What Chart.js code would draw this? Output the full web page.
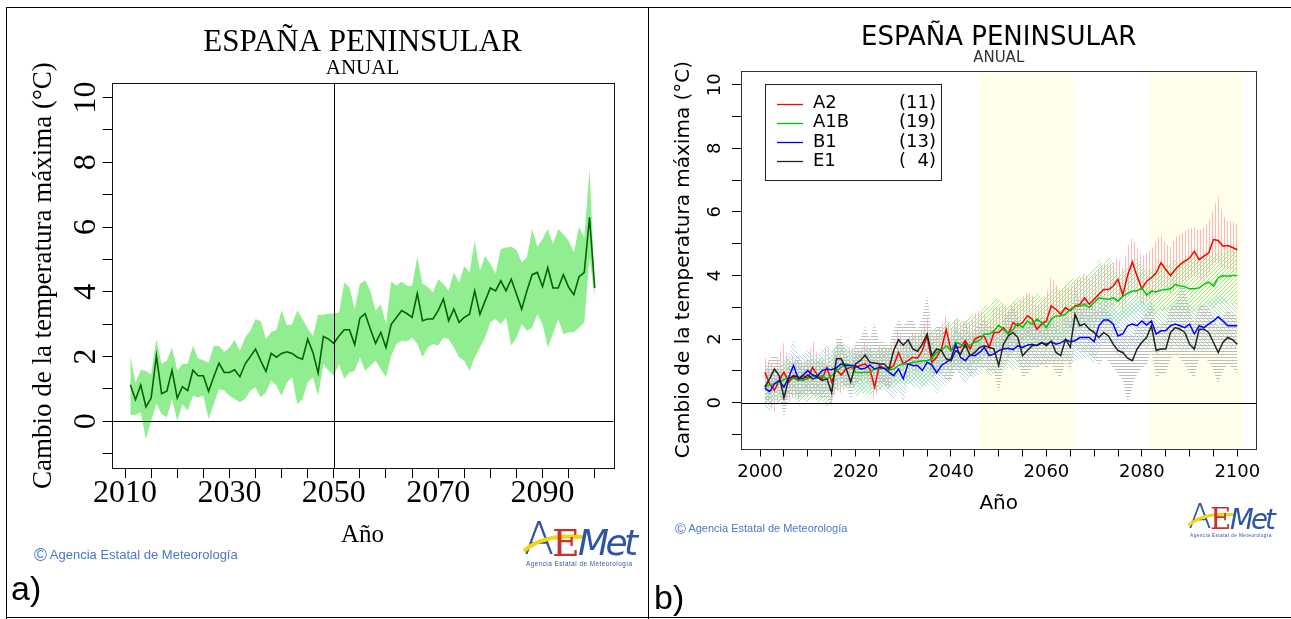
<!DOCTYPE html>
<html lang="es">
<head>
<meta charset="utf-8">
<title>España peninsular - temperatura máxima anual</title>
<script src="https://cdn.jsdelivr.net/npm/chart.js@4.4.1/dist/chart.umd.min.js"></script>
<style>
  html, body { margin: 0; padding: 0; background: #fff; }
  #page { position: relative; width: 1291px; height: 619px; overflow: hidden; font-family: "Liberation Sans", Arial, sans-serif; }
  canvas { position: absolute; top: 0; }
  #chartA { left: 0; }
  #chartB { left: 648px; }
  .rule { position: absolute; background: #000; }
  .copy { position: absolute; color: #4a78c8; white-space: nowrap; }
  .copy span { font-size: 1.35em; vertical-align: -2px; }
  .tag { position: absolute; font-size: 34px; line-height: 34px; color: #000; }
  .logo { position: absolute; }
</style>
</head>
<body>
<div id="page">
  <canvas id="chartA" width="648" height="619"></canvas>
  <canvas id="chartB" width="643" height="619"></canvas>

  <div class="rule" style="left:6px; top:7px; width:1285px; height:1px;"></div>
  <div class="rule" style="left:6px; top:7px; width:1px; height:612px;"></div>
  <div class="rule" style="left:648px; top:7px; width:1px; height:612px;"></div>
  <div class="rule" style="left:6px; top:617px; width:1285px; height:1px;"></div>

  <div class="copy" style="left:34px; top:545px; font-size:13px;"><span>©</span> Agencia Estatal de Meteorología</div>
  <div class="copy" style="left:675px; top:521px; font-size:11px;"><span>©</span> Agencia Estatal de Meteorología</div>

  <svg class="logo" style="left:522px; top:510px;" width="120" height="60" viewBox="0 0 120 60">
    <text x="2" y="44" font-family="DejaVu Sans" font-size="44" font-weight="300" fill="#2e55a4" textLength="26">A</text>
    <path d="M3 40 Q 22 24 60 27" stroke="#f4d40c" stroke-width="4" fill="none" stroke-linecap="round"/>
    <text x="30" y="46" font-family="DejaVu Serif" font-size="38" fill="#c8322c">E</text>
    <text x="56" y="45" font-family="DejaVu Sans" font-style="italic" font-size="36" fill="#2e55a4" textLength="60">Met</text>
    <text x="4" y="56" font-family="Liberation Sans" font-size="6.3" fill="#2e55a4" textLength="106">Agencia Estatal de Meteorología</text>
  </svg>
  <svg class="logo" style="left:1186px; top:494px;" width="94" height="46" viewBox="0 0 120 60">
    <text x="2" y="44" font-family="DejaVu Sans" font-size="44" font-weight="300" fill="#2e55a4" textLength="26">A</text>
    <path d="M3 40 Q 22 24 60 27" stroke="#f4d40c" stroke-width="4" fill="none" stroke-linecap="round"/>
    <text x="30" y="46" font-family="DejaVu Serif" font-size="38" fill="#c8322c">E</text>
    <text x="56" y="45" font-family="DejaVu Sans" font-style="italic" font-size="36" fill="#2e55a4" textLength="60">Met</text>
    <text x="4" y="56" font-family="Liberation Sans" font-size="6.3" fill="#2e55a4" textLength="106">Agencia Estatal de Meteorología</text>
  </svg>

  <div class="tag" style="left:11px; top:571px;">a)</div>
  <div class="tag" style="left:654px; top:580px;">b)</div>
</div>

<script>
// ---- panel a: ensemble mean and spread, 2011-2100 ----
var firstYearA = 2011;
var meanA = [
  1.13, 0.67, 1.12, 0.45, 0.72, 2.03, 0.86, 0.93, 1.58, 0.72,
  1.07, 0.95, 1.58, 1.41, 1.41, 0.93, 1.38, 1.80, 1.51, 1.51,
  1.59, 1.38, 1.77, 2.00, 2.23, 1.87, 1.54, 2.10, 1.98, 2.10,
  2.15, 2.10, 1.98, 1.92, 2.54, 2.13, 1.49, 2.62, 2.54, 2.41,
  2.64, 2.83, 2.83, 2.37, 3.19, 3.33, 2.85, 2.41, 2.75, 2.28,
  3.00, 3.21, 3.42, 3.33, 3.21, 3.95, 3.11, 3.16, 3.16, 3.42,
  3.78, 3.11, 3.47, 3.06, 3.21, 3.31, 4.03, 3.31, 3.72, 4.12,
  4.03, 4.34, 4.03, 4.39, 3.93, 3.47, 4.03, 4.53, 4.60, 4.16,
  4.75, 4.12, 4.12, 4.53, 4.14, 3.91, 4.47, 4.60, 6.30, 4.12
];
var upperA = [
  2.03, 1.20, 1.59, 1.56, 1.44, 2.54, 1.77, 1.87, 2.28, 1.58,
  1.77, 1.79, 2.33, 1.95, 1.89, 1.81, 2.33, 2.33, 2.15, 2.28,
  2.51, 2.18, 2.59, 2.80, 3.16, 3.09, 2.54, 2.75, 2.82, 3.42,
  2.97, 3.00, 3.42, 3.16, 2.87, 2.64, 3.29, 3.29, 3.33, 3.33,
  3.36, 4.29, 4.14, 3.47, 4.24, 4.36, 4.03, 3.42, 3.62, 3.00,
  4.32, 4.19, 4.32, 4.19, 4.19, 5.08, 4.24, 4.16, 3.98, 4.39,
  4.24, 4.03, 4.60, 4.29, 4.80, 4.60, 5.56, 4.65, 5.11, 4.86,
  4.57, 5.32, 5.37, 5.39, 5.30, 4.91, 5.06, 5.94, 5.39, 5.63,
  5.94, 5.47, 5.94, 5.78, 5.58, 5.22, 6.01, 5.68, 7.79, 4.24
];
var lowerA = [
  0.20, 0.20, 0.28, -0.55, 0.02, 0.55, 0.23, 0.12, 0.69, 0.02,
  0.53, 0.33, 0.79, 0.74, 0.79, 0.07, 0.53, 1.00, 0.95, 0.79,
  0.69, 0.59, 0.69, 0.95, 1.05, 0.74, 0.90, 1.26, 1.10, 0.79,
  1.20, 1.36, 0.53, 0.69, 1.20, 1.36, 0.79, 1.77, 1.56, 1.41,
  1.77, 1.31, 1.51, 1.56, 1.98, 1.56, 1.72, 1.87, 1.62, 1.36,
  2.03, 2.39, 2.49, 2.47, 2.59, 2.39, 1.98, 2.28, 2.39, 2.34,
  2.59, 2.54, 2.28, 1.98, 1.87, 1.56, 1.98, 2.28, 2.59, 3.06,
  3.16, 3.00, 3.21, 2.34, 2.59, 3.00, 2.80, 2.90, 3.31, 3.00,
  2.28, 2.70, 3.16, 2.70, 2.75, 2.75, 2.90, 3.06, 5.06, 3.81
];
var xTicksA = [2010, 2015, 2020, 2025, 2030, 2035, 2040, 2045, 2050, 2055,
               2060, 2065, 2070, 2075, 2080, 2085, 2090, 2095, 2100];
var xLabelsA = [2010, 2030, 2050, 2070, 2090];
var markYearA = 2050;

// ---- panel b: scenarios A2, A1B, B1, E1, 2001-2100 ----
var firstYearB = 2001;
var scenarioNames = ['A2', 'A1B', 'B1', 'E1'];
var modelCounts = ['(11)', '(19)', '(13)', '(\u20074)'];

var a2Mean = [
  0.96, 0.59, 0.39, 0.70, 0.96, 0.65, 0.83, 0.70, 0.85, 0.77,
  1.11, 0.87, 0.75, 1.10, 0.65, 1.04, 0.87, 1.06, 1.11, 1.11,
  1.17, 1.22, 1.06, 0.49, 1.17, 1.08, 1.06, 1.17, 1.58, 1.22,
  1.32, 1.43, 1.40, 1.64, 2.10, 1.27, 1.43, 1.69, 2.31, 1.64,
  1.74, 1.74, 1.95, 1.69, 2.00, 2.08, 2.08, 1.74, 2.21, 2.21,
  2.36, 2.16, 2.52, 2.42, 2.52, 2.73, 2.63, 2.31, 2.47, 2.57,
  3.04, 2.94, 2.78, 2.99, 2.89, 3.04, 3.09, 3.30, 3.09, 3.25,
  3.41, 3.56, 3.56, 3.67, 3.88, 3.38, 4.00, 4.42, 3.98, 3.58,
  3.82, 3.93, 4.08, 4.40, 4.19, 4.00, 4.19, 4.34, 4.45, 4.55,
  4.76, 4.50, 4.61, 4.71, 5.13, 5.10, 4.92, 4.94, 4.88, 4.81
];
var a2Upper = [
  1.4, 1.3, 1.1, 1.5, 1.9, 1.2, 1.5, 1.2, 1.4, 1.3,
  2.0, 1.5, 1.3, 1.9, 1.2, 2.0, 1.6, 1.5, 1.8, 1.6,
  1.7, 1.9, 1.6, 1.3, 1.8, 1.7, 1.7, 1.9, 2.4, 1.9,
  2.0, 2.2, 2.1, 2.3, 2.7, 2.0, 2.2, 2.4, 2.8, 2.3,
  2.7, 2.5, 2.6, 2.5, 2.8, 2.9, 2.8, 2.5, 3.0, 3.0,
  3.1, 2.9, 3.2, 3.1, 3.3, 3.5, 3.4, 3.0, 3.2, 3.4,
  4.0, 3.7, 3.5, 3.7, 3.6, 3.8, 3.9, 4.1, 3.9, 4.0,
  4.2, 4.4, 4.3, 4.4, 4.6, 4.2, 4.9, 5.2, 4.9, 4.6,
  4.7, 4.8, 5.1, 5.3, 5.0, 4.9, 5.2, 5.3, 5.4, 5.5,
  5.5, 5.4, 5.5, 5.7, 6.1, 6.5, 5.9, 5.7, 5.7, 5.6
];
var a2Lower = [
  0.4, -0.1, -0.3, 0.1, 0.3, 0.0, 0.2, 0.1, 0.3, 0.2,
  0.4, 0.3, 0.2, 0.5, 0.0, 0.4, 0.3, 0.5, 0.5, 0.6,
  0.6, 0.7, 0.5, 0.0, 0.6, 0.6, 0.5, 0.6, 1.0, 0.7,
  0.8, 0.9, 0.8, 1.1, 1.4, 0.7, 0.9, 1.1, 1.6, 1.1,
  1.2, 1.2, 1.4, 1.1, 1.4, 1.5, 1.5, 1.2, 1.6, 1.6,
  1.7, 1.6, 1.9, 1.8, 1.9, 2.1, 2.0, 1.7, 1.9, 2.0,
  2.4, 2.3, 2.2, 2.4, 2.3, 2.4, 2.5, 2.7, 2.5, 2.6,
  2.8, 2.9, 3.0, 3.0, 3.2, 2.8, 3.3, 3.6, 3.3, 3.0,
  3.2, 3.3, 3.4, 3.7, 3.5, 3.4, 3.6, 3.7, 3.8, 3.9,
  4.0, 3.8, 3.9, 4.0, 4.4, 4.4, 4.2, 4.2, 4.1, 4.1
];

var a1bMean = [
  0.49, 0.56, 0.60, 0.65, 0.73, 0.78, 0.75, 0.72, 0.70, 0.75,
  0.85, 0.80, 0.85, 0.75, 0.85, 1.00, 1.11, 1.22, 1.17, 0.96,
  0.94, 0.96, 0.96, 1.06, 1.06, 1.09, 1.02, 1.06, 1.17, 1.22,
  1.22, 1.27, 1.29, 1.32, 1.32, 1.38, 1.58, 1.64, 1.79, 1.64,
  1.90, 1.84, 1.74, 1.82, 1.90, 1.95, 2.16, 2.16, 2.26, 2.44,
  2.31, 2.16, 2.31, 2.50, 2.36, 2.57, 2.47, 2.63, 2.52, 2.36,
  2.63, 2.73, 2.73, 2.78, 2.94, 3.02, 3.04, 3.09, 2.99, 3.15,
  3.30, 3.27, 3.25, 3.30, 3.20, 3.35, 3.44, 3.51, 3.51, 3.61,
  3.38, 3.51, 3.48, 3.54, 3.56, 3.58, 3.72, 3.67, 3.65, 3.58,
  3.58, 3.61, 3.72, 3.79, 3.67, 3.93, 4.00, 3.98, 4.00, 4.00
];
var a1bUpper = [
  1.1, 1.2, 0.9, 1.0, 1.3, 1.4, 1.2, 1.3, 1.2, 1.2,
  1.4, 1.3, 1.5, 1.2, 1.6, 1.8, 1.9, 1.7, 1.6, 1.5,
  1.6, 1.5, 1.7, 1.7, 1.6, 1.8, 1.7, 1.7, 1.9, 1.9,
  2.0, 2.1, 2.0, 2.3, 2.2, 2.3, 2.4, 2.3, 2.6, 2.5,
  2.7, 2.6, 2.5, 2.8, 2.7, 2.8, 3.1, 3.0, 3.2, 3.3,
  3.1, 3.0, 3.2, 3.3, 3.2, 3.4, 3.3, 3.5, 3.3, 3.3,
  3.5, 3.6, 3.5, 3.7, 3.9, 3.9, 4.0, 3.9, 4.1, 4.2,
  4.5, 4.3, 4.6, 4.4, 4.0, 4.1, 4.3, 4.5, 4.6, 4.3,
  4.2, 4.2, 4.3, 4.3, 4.4, 4.3, 4.5, 4.4, 4.5, 4.5,
  4.6, 4.6, 4.5, 4.7, 4.6, 4.8, 4.7, 4.8, 4.8, 4.9
];
var a1bLower = [
  -0.1, 0.0, 0.1, 0.0, 0.2, 0.3, 0.2, -0.1, 0.1, 0.0,
  0.2, 0.0, 0.1, -0.2, 0.1, 0.4, 0.4, 0.5, 0.5, 0.2,
  0.3, 0.3, 0.2, 0.4, 0.4, 0.5, 0.4, 0.5, 0.6, 0.6,
  0.6, 0.7, 0.7, 0.5, 0.6, 0.7, 0.9, 1.0, 1.1, 0.9,
  1.2, 1.1, 1.0, 1.1, 1.2, 1.2, 1.4, 1.5, 1.5, 1.7,
  1.6, 1.4, 1.6, 1.7, 1.6, 1.8, 1.7, 1.9, 1.8, 1.6,
  1.9, 2.0, 2.0, 2.1, 2.2, 2.3, 2.3, 2.4, 2.3, 2.4,
  2.6, 2.5, 2.5, 2.6, 2.5, 2.6, 2.7, 2.8, 2.8, 2.9,
  2.6, 2.8, 2.8, 2.9, 2.9, 2.9, 3.0, 2.9, 2.9, 2.8,
  2.9, 2.9, 3.0, 3.1, 2.9, 3.1, 3.1, 3.2, 3.1, 3.1
];

var b1Mean = [
  0.46, 0.35, 0.59, 0.70, 0.49, 0.80, 1.17, 0.75, 0.87, 1.01,
  0.87, 0.83, 1.01, 1.06, 1.04, 1.10, 1.22, 1.17, 1.17, 1.17,
  1.06, 1.08, 1.19, 1.06, 1.11, 1.08, 0.96, 0.85, 1.06, 0.75,
  1.22, 1.17, 1.17, 1.01, 1.27, 1.19, 0.94, 1.17, 1.27, 1.38,
  1.84, 1.43, 1.32, 1.50, 1.48, 1.58, 1.74, 1.48, 1.53, 1.64,
  1.69, 1.71, 1.67, 1.79, 1.74, 1.81, 1.84, 1.79, 1.88, 1.84,
  1.92, 1.84, 1.88, 1.98, 1.92, 1.95, 2.05, 2.05, 2.05, 1.92,
  2.42, 2.60, 2.60, 2.47, 2.10, 2.16, 2.42, 2.47, 2.42, 2.57,
  2.44, 2.57, 2.16, 2.26, 2.26, 2.42, 2.47, 2.42, 2.36, 2.47,
  2.16, 2.42, 2.36, 2.47, 2.57, 2.70, 2.57, 2.42, 2.42, 2.42
];
var b1Upper = [
  1.2, 0.9, 1.0, 1.1, 1.4, 1.5, 2.0, 1.5, 1.5, 1.7,
  1.5, 1.5, 1.7, 1.8, 1.6, 1.8, 1.9, 1.8, 1.7, 1.8,
  1.7, 1.8, 1.8, 1.6, 1.8, 1.7, 1.6, 1.6, 1.7, 1.5,
  1.9, 1.9, 1.8, 1.7, 2.0, 1.9, 1.7, 1.9, 2.0, 2.0,
  2.5, 2.1, 2.0, 2.2, 2.1, 2.2, 2.4, 2.2, 2.2, 2.3,
  2.4, 2.4, 2.3, 2.5, 2.4, 2.5, 2.5, 2.5, 2.6, 2.6,
  2.6, 2.5, 2.6, 2.7, 2.6, 2.7, 2.8, 2.8, 2.8, 2.6,
  3.1, 3.3, 3.2, 3.1, 2.8, 2.9, 3.1, 3.2, 3.1, 3.3,
  3.1, 3.3, 2.9, 3.0, 3.0, 3.1, 3.2, 3.1, 3.0, 3.2,
  2.9, 3.1, 3.1, 3.2, 3.3, 3.4, 3.3, 3.2, 3.1, 3.2
];
var b1Lower = [
  -0.2, -0.3, 0.0, 0.2, -0.1, 0.2, 0.5, 0.1, 0.2, 0.4,
  0.2, 0.2, 0.3, 0.4, 0.4, 0.4, 0.6, 0.5, 0.5, 0.5,
  0.4, 0.4, 0.5, 0.4, 0.4, 0.4, 0.3, 0.1, 0.4, 0.0,
  0.6, 0.5, 0.5, 0.4, 0.6, 0.5, 0.3, 0.5, 0.6, 0.7,
  1.1, 0.8, 0.6, 0.8, 0.8, 0.9, 1.1, 0.8, 0.9, 1.0,
  1.0, 1.1, 1.0, 1.1, 1.1, 1.1, 1.2, 1.1, 1.2, 1.2,
  1.3, 1.2, 1.2, 1.3, 1.2, 1.3, 1.4, 1.4, 1.4, 1.2,
  1.7, 1.9, 1.9, 1.8, 1.4, 1.5, 1.7, 1.8, 1.7, 1.9,
  1.7, 1.9, 1.5, 1.6, 1.6, 1.7, 1.8, 1.7, 1.6, 1.8,
  1.5, 1.7, 1.6, 1.8, 1.9, 2.0, 1.9, 1.7, 1.7, 1.7
];

var e1Mean = [
  0.49, 0.75, 1.06, 0.85, 0.15, 0.75, 0.85, 0.80, 0.75, 0.87,
  0.75, 0.80, 0.70, 0.75, 0.31, 1.38, 1.38, 1.08, 0.65, 1.22,
  1.32, 1.50, 1.27, 1.25, 1.22, 1.22, 1.06, 1.64, 1.98, 1.81,
  1.98, 1.69, 1.62, 1.84, 2.16, 1.48, 1.69, 1.64, 1.38, 1.32,
  1.64, 1.53, 1.84, 1.48, 1.58, 1.74, 1.79, 1.74, 1.69, 1.17,
  1.84, 2.10, 2.21, 2.05, 1.48, 1.64, 1.79, 1.81, 1.90, 1.79,
  1.94, 1.58, 1.48, 2.00, 1.74, 2.78, 2.42, 2.48, 2.31, 2.21,
  2.05, 2.21, 2.10, 1.84, 1.64, 1.58, 1.40, 1.32, 1.69, 1.90,
  2.05, 2.42, 1.64, 1.69, 1.69, 2.21, 2.36, 2.31, 2.21, 1.84,
  1.69, 2.31, 2.31, 2.21, 1.90, 1.58, 1.90, 2.05, 1.98, 1.84
];
var e1Upper = [
  1.0, 1.4, 1.5, 1.4, 0.8, 1.2, 1.3, 1.5, 1.2, 1.4,
  1.2, 1.3, 1.3, 1.2, 1.0, 2.0, 2.1, 1.6, 1.2, 1.9,
  2.0, 2.4, 2.0, 2.5, 1.9, 1.9, 1.8, 2.3, 2.6, 2.4,
  2.6, 2.6, 2.3, 2.7, 3.4, 2.2, 2.4, 2.4, 2.0, 2.0,
  2.3, 2.2, 2.6, 2.1, 2.3, 2.5, 2.6, 2.4, 2.4, 1.9,
  2.6, 2.9, 3.0, 2.8, 2.2, 2.4, 2.6, 2.6, 2.7, 2.6,
  2.7, 2.3, 2.2, 2.8, 2.5, 3.7, 3.2, 3.3, 3.1, 3.0,
  2.8, 3.0, 2.9, 2.6, 2.4, 2.3, 2.1, 2.1, 2.4, 2.7,
  2.8, 3.2, 2.4, 2.5, 2.5, 3.0, 3.1, 3.6, 3.7, 2.9,
  2.5, 3.0, 3.1, 3.0, 2.7, 2.4, 2.7, 2.9, 2.8, 2.7
];
var e1Lower = [
  0.0, 0.1, 0.5, 0.3, -0.5, 0.2, 0.3, 0.2, 0.2, 0.3,
  0.2, 0.3, 0.1, 0.2, -0.1, 0.7, 0.7, 0.5, 0.1, 0.6,
  0.7, 0.9, 0.6, 0.7, 0.6, 0.6, 0.4, 1.0, 1.3, 1.1,
  1.3, 1.1, 1.0, 1.2, 1.4, 0.8, 1.0, 0.9, 0.7, 0.7,
  1.0, 0.9, 1.2, 0.8, 1.0, 1.1, 1.1, 1.0, 1.0, 0.3,
  1.1, 1.3, 1.4, 1.3, 0.8, 0.9, 1.1, 1.1, 1.2, 1.1,
  1.2, 0.9, 0.8, 1.3, 1.0, 1.8, 1.6, 1.6, 1.5, 1.4,
  1.2, 1.4, 1.3, 1.1, 0.9, 0.7, 0.0, 0.5, 0.9, 1.1,
  1.2, 1.6, 0.8, 0.9, 0.9, 1.4, 1.5, 1.4, 1.2, 0.9,
  0.8, 1.4, 1.4, 1.3, 1.0, 0.6, 1.0, 1.2, 1.1, 0.9
];

var xTicksB = [2000, 2005, 2010, 2015, 2020, 2025, 2030, 2035, 2040, 2045, 2050,
               2055, 2060, 2065, 2070, 2075, 2080, 2085, 2090, 2095, 2100];
var xLabelsB = [2000, 2020, 2040, 2060, 2080, 2100];
var periodStart = [2046, 2081.5];
var periodEnd = [2065.8, 2101];

var yTickValues = [-1, 0, 1, 2, 3, 4, 5, 6, 7, 8, 9, 10];

var lineColors = ['#ff0000', '#00c800', '#0000ff', '#222222'];
var hatchColors = ['#ffb6c1', '#90ee90', '#add8e6', '#bebebe'];
var hatchKinds = ['v', 'd', 'a', 'h'];

// turn a value list into {x, y} points starting at a given year
function toPoints(startYear, values) {
    return values.map(function (v, i) { return { x: startYear + i, y: v }; });
}

function makeHatch(color, kind) {
    var s = (kind === 'v' || kind === 'h') ? 3 : 4;
    var c = document.createElement('canvas');
    c.width = s;
    c.height = s;
    var g = c.getContext('2d');
    g.strokeStyle = color;
    g.lineWidth = 1;
    g.beginPath();
    if (kind === 'v') {
        g.moveTo(0.5, 0); g.lineTo(0.5, s);
    } else if (kind === 'h') {
        g.moveTo(0, 0.5); g.lineTo(s, 0.5);
    } else if (kind === 'd') {
        g.moveTo(0, s); g.lineTo(s, 0);
        g.moveTo(-1, 1); g.lineTo(1, -1);
        g.moveTo(s - 1, s + 1); g.lineTo(s + 1, s - 1);
    } else {
        g.moveTo(0, 0); g.lineTo(s, s);
        g.moveTo(s - 1, -1); g.lineTo(s + 1, 1);
        g.moveTo(-1, s - 1); g.lineTo(1, s + 1);
    }
    g.stroke();
    return g.createPattern(c, 'repeat');
}

// box around the plotting region
var framePlugin = {
    id: 'frame',
    afterDraw: function (chart) {
        var a = chart.chartArea;
        var ctx = chart.ctx;
        ctx.save();
        ctx.strokeStyle = chart.options.plugins.frame.color;
        ctx.lineWidth = 1;
        ctx.strokeRect(Math.round(a.left) + 0.5, Math.round(a.top) + 0.5,
                       Math.round(a.right - a.left), Math.round(a.bottom - a.top));
        ctx.restore();
    }
};

// zero line (and optional marker year) over the data
var refLinesPlugin = {
    id: 'refLines',
    afterDatasetsDraw: function (chart) {
        var opts = chart.options.plugins.refLines;
        var a = chart.chartArea;
        var ctx = chart.ctx;
        var y0 = Math.round(chart.scales.y.getPixelForValue(0)) + 0.5;
        ctx.save();
        ctx.strokeStyle = '#000';
        ctx.lineWidth = 1;
        ctx.beginPath();
        ctx.moveTo(a.left, y0);
        ctx.lineTo(a.right, y0);
        if (opts.year !== undefined) {
            var x0 = Math.round(chart.scales.x.getPixelForValue(opts.year)) + 0.5;
            ctx.moveTo(x0, a.top);
            ctx.lineTo(x0, a.bottom);
        }
        ctx.stroke();
        ctx.restore();
    }
};

// pale background for the two reference periods
var periodPlugin = {
    id: 'periods',
    beforeDatasetsDraw: function (chart) {
        var a = chart.chartArea;
        var ctx = chart.ctx;
        var xs = chart.scales.x;
        ctx.save();
        ctx.fillStyle = '#ffffec';
        for (var i = 0; i < periodStart.length; i++) {
            var x1 = xs.getPixelForValue(periodStart[i]);
            var x2 = Math.min(xs.getPixelForValue(periodEnd[i]), a.right);
            ctx.fillRect(x1, a.top, x2 - x1, a.bottom - a.top);
        }
        ctx.restore();
    }
};

var legendPlugin = {
    id: 'scenarioLegend',
    afterDatasetsDraw: function (chart) {
        var a = chart.chartArea;
        var ctx = chart.ctx;
        var x0 = Math.round(a.left) + 24, y0 = Math.round(a.top) + 13;
        ctx.save();
        ctx.fillStyle = '#fff';
        ctx.fillRect(x0, y0, 176, 96);
        ctx.strokeStyle = '#222';
        ctx.lineWidth = 1;
        ctx.strokeRect(x0 + 0.5, y0 + 0.5, 176, 96);
        ctx.font = '18px "DejaVu Sans"';
        ctx.textBaseline = 'middle';
        for (var i = 0; i < scenarioNames.length; i++) {
            var y = y0 + 19.5 + i * 19.2;
            ctx.strokeStyle = lineColors[i];
            ctx.lineWidth = 1.3;
            ctx.beginPath();
            ctx.moveTo(x0 + 12, Math.round(y) + 0.5);
            ctx.lineTo(x0 + 38, Math.round(y) + 0.5);
            ctx.stroke();
            ctx.fillStyle = '#000';
            ctx.textAlign = 'left';
            ctx.fillText(scenarioNames[i], x0 + 48, y);
            ctx.textAlign = 'right';
            ctx.fillText(modelCounts[i], x0 + 171, y);
        }
        ctx.restore();
    }
};

function tickList(values) {
    return function (axis) {
        axis.ticks = values.map(function (v) { return { value: v }; });
    };
}

// ---------- chart a ----------
var serif = 'Liberation Serif';

new Chart(document.getElementById('chartA').getContext('2d'), {
    type: 'line',
    data: {
        datasets: [{
            label: 'media',
            data: toPoints(firstYearA, meanA),
            borderColor: '#006400',
            borderWidth: 1.6,
            pointRadius: 0,
            fill: false,
            order: 1
        }, {
            label: 'minimo',
            data: toPoints(firstYearA, lowerA),
            borderColor: 'rgba(0,0,0,0)',
            borderWidth: 0,
            pointRadius: 0,
            fill: false,
            order: 3
        }, {
            label: 'maximo',
            data: toPoints(firstYearA, upperA),
            borderColor: 'rgba(0,0,0,0)',
            borderWidth: 0,
            pointRadius: 0,
            backgroundColor: '#90ee90',
            fill: 1,
            order: 2
        }]
    },
    options: {
        responsive: false,
        animation: false,
        devicePixelRatio: 1,
        events: [],
        layout: { padding: { left: 0, right: 34.7, top: 0, bottom: 61 } },
        elements: { line: { tension: 0 } },
        scales: {
            x: {
                type: 'linear',
                min: 2007.44,
                max: 2103.56,
                afterBuildTicks: tickList(xTicksA),
                afterFit: function (axis) { axis.height = 90; },
                border: { display: false },
                grid: { drawOnChartArea: false, drawTicks: true, tickLength: 10, tickColor: '#000', tickWidth: 1 },
                ticks: {
                    autoSkip: false, maxRotation: 0, minRotation: 0, padding: 0, color: '#000',
                    font: { family: serif, size: 32, lineHeight: 1 },
                    callback: function (v) { return xLabelsA.indexOf(v) >= 0 ? String(v) : ''; }
                },
                title: {
                    display: true, text: 'Año', color: '#000',
                    font: { family: serif, size: 25 },
                    padding: { top: 0, bottom: 8 }
                }
            },
            y: {
                type: 'linear',
                min: -1.44,
                max: 10.44,
                afterBuildTicks: tickList(yTickValues),
                afterFit: function (axis) { axis.width = 111.7; },
                border: { display: false },
                grid: { drawOnChartArea: false, drawTicks: true, tickLength: 9, tickColor: '#000', tickWidth: 1 },
                ticks: {
                    autoSkip: false, minRotation: 90, maxRotation: 90, crossAlign: 'center', padding: 0, color: '#000',
                    font: { family: serif, size: 32, lineHeight: 1 },
                    callback: function (v) { return v % 2 === 0 ? String(v) : ''; }
                },
                title: {
                    display: true, text: 'Cambio de la temperatura máxima (°C)', color: '#000',
                    font: { family: serif, size: 27 },
                    padding: { top: 28, bottom: 0 }
                }
            }
        },
        plugins: {
            legend: { display: false },
            tooltip: { enabled: false },
            title: {
                display: true, fullSize: false, text: 'ESPAÑA PENINSULAR', color: '#000',
                font: { family: serif, size: 31, weight: 'normal', lineHeight: 1 },
                padding: { top: 27, bottom: 0 }
            },
            subtitle: {
                display: true, fullSize: false, text: 'ANUAL', color: '#000',
                font: { family: serif, size: 21, lineHeight: 1 },
                padding: { top: 0, bottom: 4.3 }
            },
            frame: { color: '#111' },
            refLines: { year: markYearA }
        }
    },
    plugins: [refLinesPlugin, framePlugin]
});

// ---------- chart b ----------
var sans = 'DejaVu Sans';
var bandsB = [
    { mean: a2Mean, upper: a2Upper, lower: a2Lower },
    { mean: a1bMean, upper: a1bUpper, lower: a1bLower },
    { mean: b1Mean, upper: b1Upper, lower: b1Lower },
    { mean: e1Mean, upper: e1Upper, lower: e1Lower }
];

var datasetsB = [];
// scenario lines come first so that they sit above every band
bandsB.forEach(function (s, i) {
    datasetsB.push({
        label: scenarioNames[i],
        data: toPoints(firstYearB, s.mean),
        borderColor: lineColors[i],
        borderWidth: 1.5,
        pointRadius: 0,
        fill: false,
        order: 4 - i
    });
});
bandsB.forEach(function (s, i) {
    var lowerIndex = datasetsB.length;
    datasetsB.push({
        label: scenarioNames[i] + ' min',
        data: toPoints(firstYearB, s.lower),
        borderColor: 'rgba(0,0,0,0)',
        borderWidth: 0,
        pointRadius: 0,
        fill: false,
        order: 20
    });
    datasetsB.push({
        label: scenarioNames[i] + ' max',
        data: toPoints(firstYearB, s.upper),
        borderColor: 'rgba(0,0,0,0)',
        borderWidth: 0,
        pointRadius: 0,
        backgroundColor: makeHatch(hatchColors[i], hatchKinds[i]),
        fill: lowerIndex,
        order: 14 - i
    });
});

new Chart(document.getElementById('chartB').getContext('2d'), {
    type: 'line',
    data: { datasets: datasetsB },
    options: {
        responsive: false,
        animation: false,
        devicePixelRatio: 1,
        events: [],
        layout: { padding: { left: 0, right: 34.6, top: 0, bottom: 90.5 } },
        elements: { line: { tension: 0 } },
        scales: {
            x: {
                type: 'linear',
                min: 1996,
                max: 2104,
                afterBuildTicks: tickList(xTicksB),
                afterFit: function (axis) { axis.height = 80; },
                border: { display: false },
                grid: { drawOnChartArea: false, drawTicks: true, tickLength: 8, tickColor: '#000', tickWidth: 1 },
                ticks: {
                    autoSkip: false, maxRotation: 0, minRotation: 0, padding: 7, color: '#000',
                    font: { family: sans, size: 18, lineHeight: 1 },
                    callback: function (v) { return xLabelsB.indexOf(v) >= 0 ? String(v) : ''; }
                },
                title: {
                    display: true, text: 'Año', color: '#000',
                    font: { family: sans, size: 20 },
                    padding: { top: 0, bottom: 13 }
                }
            },
            y: {
                type: 'linear',
                min: -1.44,
                max: 10.44,
                afterBuildTicks: tickList(yTickValues),
                afterFit: function (axis) { axis.width = 93; },
                border: { display: false },
                grid: { drawOnChartArea: false, drawTicks: true, tickLength: 9, tickColor: '#000', tickWidth: 1 },
                ticks: {
                    autoSkip: false, minRotation: 90, maxRotation: 90, crossAlign: 'center', padding: 5.5, color: '#000',
                    font: { family: sans, size: 18, lineHeight: 1 },
                    callback: function (v) { return v % 2 === 0 ? String(v) : ''; }
                },
                title: {
                    display: true, text: 'Cambio de la temperatura máxima (°C)', color: '#000',
                    font: { family: sans, size: 20 },
                    padding: { top: 23.5, bottom: 0 }
                }
            }
        },
        plugins: {
            legend: { display: false },
            tooltip: { enabled: false },
            title: {
                display: true, fullSize: false, text: 'ESPAÑA PENINSULAR', color: '#000',
                font: { family: sans, size: 26, weight: 'normal', lineHeight: 1 },
                padding: { top: 25, bottom: 0 }
            },
            subtitle: {
                display: true, fullSize: false, text: 'ANUAL', color: '#333',
                font: { family: sans, size: 15, lineHeight: 1 },
                padding: { top: 0, bottom: 4.7 }
            },
            frame: { color: '#333' },
            refLines: {}
        }
    },
    plugins: [periodPlugin, refLinesPlugin, legendPlugin, framePlugin]
});
</script>
</body>
</html>
